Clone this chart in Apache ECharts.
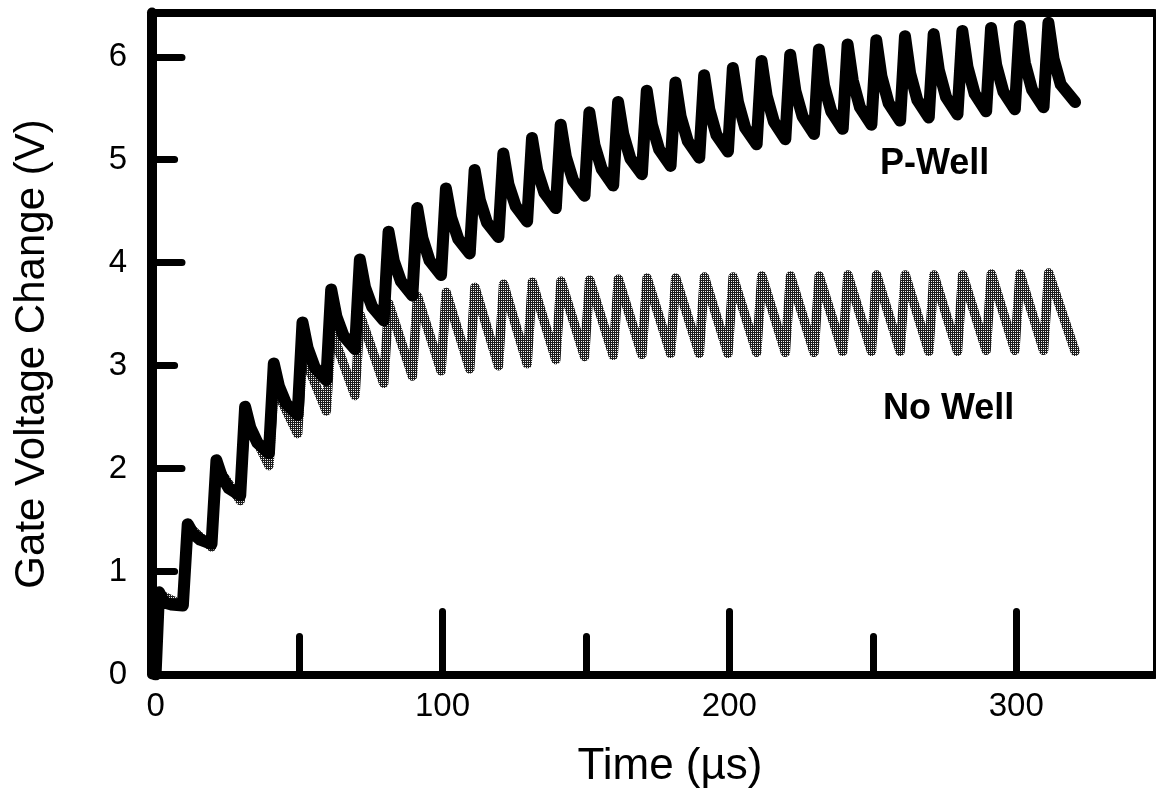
<!DOCTYPE html>
<html>
<head>
<meta charset="utf-8">
<title>Gate Voltage Change vs Time</title>
<script src="https://cdn.jsdelivr.net/npm/echarts@6/dist/echarts.min.js"></script>
<style>
  html, body { margin: 0; padding: 0; background: #fff; }
  #chart { width: 1156px; height: 793px; }
</style>
</head>
<body>
<div id="chart"></div>
<script>
// Pulse train: one charge pulse every 10 µs, start of each cycle (µs)
const cycleStart = [0, 10, 20, 30, 40, 50, 60, 70, 80, 90, 100, 110, 120, 130, 140, 150,
                    160, 170, 180, 190, 200, 210, 220, 230, 240, 250, 260, 270, 280, 290, 300, 310];
const traceEnd = 320.5;

// P-Well gate voltage (V): peak after each pulse, two points on the decay, value before next pulse
const pWellPeak   = [0.80, 1.46, 2.08, 2.60, 3.02, 3.42, 3.74, 4.03, 4.30, 4.53, 4.72, 4.90, 5.06, 5.21, 5.34, 5.46,
                     5.56, 5.67, 5.75, 5.82, 5.89, 5.96, 6.02, 6.07, 6.12, 6.16, 6.20, 6.22, 6.25, 6.28, 6.30, 6.33];
const pWellEarly  = [0.70, 1.37, 1.93, 2.40, 2.80, 3.17, 3.48, 3.76, 4.02, 4.24, 4.44, 4.61, 4.76, 4.90, 5.03, 5.14,
                     5.25, 5.34, 5.42, 5.49, 5.56, 5.62, 5.67, 5.72, 5.77, 5.81, 5.84, 5.87, 5.90, 5.92, 5.94, 5.98];
const pWellLate   = [0.68, 1.31, 1.81, 2.25, 2.63, 2.98, 3.29, 3.57, 3.82, 4.02, 4.23, 4.39, 4.55, 4.68, 4.80, 4.91,
                     5.01, 5.10, 5.18, 5.24, 5.31, 5.37, 5.42, 5.47, 5.51, 5.55, 5.58, 5.61, 5.64, 5.66, 5.68, 5.73];
const pWellTrough = [0.67, 1.27, 1.74, 2.15, 2.52, 2.86, 3.16, 3.44, 3.68, 3.88, 4.09, 4.25, 4.40, 4.53, 4.65, 4.75,
                     4.86, 4.94, 5.02, 5.08, 5.15, 5.20, 5.25, 5.30, 5.34, 5.38, 5.41, 5.44, 5.47, 5.49, 5.51, 5.56];

// No Well gate voltage (V): peak after each pulse and value before next pulse
const noWellPeak   = [0.78, 1.44, 2.02, 2.49, 2.81, 3.12, 3.34, 3.49, 3.60, 3.67, 3.71, 3.76, 3.79, 3.81, 3.82, 3.83,
                      3.84, 3.85, 3.85, 3.86, 3.86, 3.87, 3.87, 3.87, 3.88, 3.88, 3.88, 3.88, 3.88, 3.89, 3.89, 3.90];
const noWellTrough = [0.67, 1.24, 1.69, 2.03, 2.34, 2.56, 2.71, 2.83, 2.90, 2.95, 2.97, 3.00, 3.02, 3.06, 3.09, 3.10,
                      3.11, 3.12, 3.12, 3.12, 3.13, 3.13, 3.13, 3.14, 3.14, 3.14, 3.14, 3.14, 3.15, 3.15, 3.15, 3.14];

// Axis ticks and labels
const xLabelValues  = [0, 100, 200, 300];
const xLongTicks    = [100, 200, 300];
const xShortTicks   = [50, 150, 250];
const yLabelValues  = [0, 1, 2, 3, 4, 5, 6];
const yLongTicks    = [2, 4, 6];
const yShortTicks   = [1, 3, 5];

// Assemble polylines: pulse peak, decay, then the level just before the next pulse
const pWellPoints = [[0, 0]];
cycleStart.forEach((s, k) => {
  const last = k === cycleStart.length - 1;
  pWellPoints.push([s + 1.2, pWellPeak[k]], [s + 3.0, pWellEarly[k]],
                   [s + 5.5, pWellLate[k]], [last ? traceEnd : s + 9.5, pWellTrough[k]]);
});
const noWellPoints = [[0, 0]];
cycleStart.forEach((s, k) => {
  const last = k === cycleStart.length - 1;
  noWellPoints.push([s + 1.3, noWellPeak[k]], [last ? traceEnd : s + 9.5, noWellTrough[k]]);
});

// Halftone screen used for the No Well trace: dark mesh with small light holes
const tile = document.createElement('canvas');
tile.width = 2; tile.height = 2;
const tctx = tile.getContext('2d');
tctx.fillStyle = '#1c1c1c'; tctx.fillRect(0, 0, 2, 2);
tctx.fillStyle = '#f2f2f2'; tctx.fillRect(1, 1, 1, 1);
const halftone = { image: tile, repeat: 'repeat' };

const FONT = "'Liberation Sans', Arial, Helvetica, sans-serif";
const X_MAX = 348, Y_MAX = 6.43;

const tickStyle = (w) => ({ color: '#000', width: w, cap: 'round' });
const baseX = { type: 'value', min: 0, max: X_MAX, gridIndex: 0, splitLine: { show: false } };
const baseY = { type: 'value', min: 0, max: Y_MAX, gridIndex: 0, splitLine: { show: false } };

const chart = echarts.init(document.getElementById('chart'), null, { renderer: 'canvas' });
chart.setOption({
  animation: false,
  backgroundColor: '#ffffff',
  grid: { left: 155.6, top: 12.5, width: 998.4, height: 662, containLabel: false },
  xAxis: [
    // main time axis with long ticks and labels
    Object.assign({}, baseX, {
      position: 'bottom',
      axisLine: { show: true, onZero: false, lineStyle: { color: '#000', width: 8, cap: 'round' } },
      axisTick: { show: true, inside: true, length: 63, customValues: xLongTicks, lineStyle: tickStyle(7) },
      axisLabel: { show: true, customValues: xLabelValues, margin: 16, color: '#000',
                   fontSize: 33, fontFamily: FONT }
    }),
    // top edge of the frame
    Object.assign({}, baseX, {
      position: 'top',
      axisLine: { show: true, onZero: false, lineStyle: { color: '#000', width: 8, cap: 'round' } },
      axisTick: { show: false },
      axisLabel: { show: false }
    }),
    // short half-step ticks, pinned to the zero line
    Object.assign({}, baseX, {
      position: 'top',
      axisLine: { show: false, onZero: true },
      axisTick: { show: true, inside: false, length: 38, customValues: xShortTicks, lineStyle: tickStyle(7) },
      axisLabel: { show: false }
    })
  ],
  yAxis: [
    Object.assign({}, baseY, {
      position: 'left', offset: 3.6,
      axisLine: { show: true, onZero: false, lineStyle: { color: '#000', width: 10, cap: 'round' } },
      axisTick: { show: true, inside: true, length: 30, customValues: yLongTicks, lineStyle: tickStyle(7) },
      axisLabel: { show: true, customValues: yLabelValues, margin: 25, color: '#000',
                   fontSize: 33, fontFamily: FONT }
    }),
    // right edge of the frame
    Object.assign({}, baseY, {
      position: 'right', offset: 0,
      axisLine: { show: true, onZero: false, lineStyle: { color: '#000', width: 3 } },
      axisTick: { show: false },
      axisLabel: { show: false }
    }),
    // short odd-volt ticks, pinned to the zero line
    Object.assign({}, baseY, {
      position: 'right', offset: 3.6,
      axisLine: { show: false, onZero: true },
      axisTick: { show: true, inside: false, length: 19, customValues: yShortTicks, lineStyle: tickStyle(7) },
      axisLabel: { show: false }
    })
  ],
  series: [
    {
      name: 'No Well', type: 'line', xAxisIndex: 0, yAxisIndex: 0,
      data: noWellPoints, showSymbol: false, symbol: 'none', z: 2,
      lineStyle: { color: halftone, width: 9.5, cap: 'round', join: 'round' }
    },
    {
      name: 'P-Well', type: 'line', xAxisIndex: 0, yAxisIndex: 0,
      data: pWellPoints, showSymbol: false, symbol: 'none', z: 3,
      lineStyle: { color: '#000', width: 12, cap: 'round', join: 'round' }
    }
  ],
  graphic: [
    { type: 'text', left: 880, top: 146,
      style: { text: 'P-Well', fill: '#000', font: `bold 36px ${FONT}` } },
    { type: 'text', left: 883, top: 391,
      style: { text: 'No Well', fill: '#000', font: `bold 36px ${FONT}` } },
    { type: 'text', x: 670, y: 767,
      style: { text: 'Time (µs)', fill: '#000', font: `44px ${FONT}`, align: 'center', verticalAlign: 'middle' } },
    { type: 'text', x: 32, y: 354, rotation: Math.PI / 2,
      style: { text: 'Gate Voltage Change (V)', fill: '#000', font: `42px ${FONT}`, align: 'center', verticalAlign: 'middle' } }
  ]
});
</script>
</body>
</html>
